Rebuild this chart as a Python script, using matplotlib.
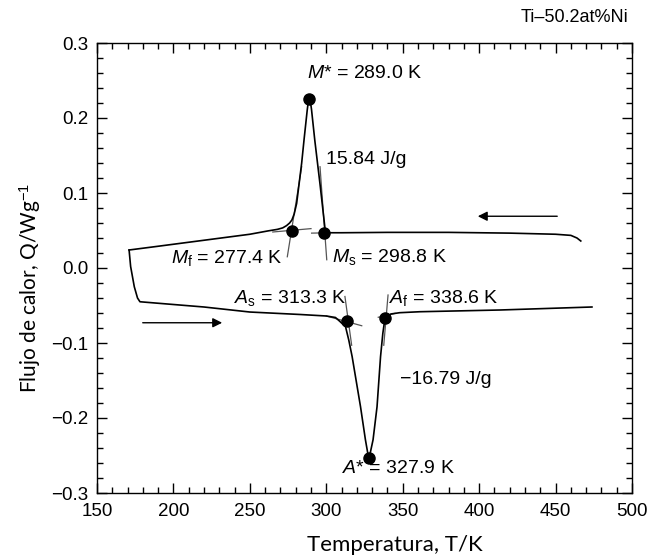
import numpy as np
import matplotlib
matplotlib.use("Agg")
import matplotlib.pyplot as plt
from matplotlib.ticker import MultipleLocator, FuncFormatter

plt.rcParams['font.family'] = ['Liberation Sans', 'DejaVu Sans']
plt.rcParams['mathtext.fontset'] = 'custom'
plt.rcParams['mathtext.rm'] = 'Liberation Sans'
plt.rcParams['mathtext.it'] = 'Liberation Sans:italic'

# cooling run (high T -> low T), exothermic M peak
cool_T = [466.5, 464.0, 460.0, 450.0, 420.0, 380.0, 340.0, 310.0, 300.0,
          299.3, 296.0, 292.5, 290.3, 289.5, 289.0, 288.3, 287.5, 285.5,
          283.9, 282.2, 280.6, 279.0, 277.5, 276.0, 274.0, 271.5, 268.0,
          262.0, 250.0, 220.0, 190.0, 171.0]
cool_Q = [0.036, 0.040, 0.0435, 0.045, 0.0465, 0.0475, 0.0475, 0.047, 0.047,
          0.050, 0.110, 0.170, 0.212, 0.223, 0.226, 0.223, 0.210, 0.172,
          0.140, 0.112, 0.086, 0.072, 0.064, 0.060, 0.0565, 0.0535, 0.0515,
          0.0495, 0.045, 0.037, 0.029, 0.024]

# heating run (low T -> high T), endothermic A dip
heat_T = [171.0, 172.0, 174.4, 176.5, 178.1, 190.0, 220.0, 250.0, 283.0,
          300.0, 306.0, 308.5, 312.6, 314.7, 316.9, 322.4, 325.6, 327.4,
          327.9, 328.4, 330.6, 333.2, 335.5, 337.0, 338.4, 342.3, 348.0,
          361.3, 413.6, 473.8]
heat_Q = [0.024, 0.002, -0.025, -0.040, -0.045, -0.047, -0.052, -0.0587, -0.062,
          -0.064, -0.066, -0.0705, -0.0783, -0.096, -0.118, -0.185, -0.229, -0.250,
          -0.253, -0.250, -0.229, -0.185, -0.118, -0.087, -0.067, -0.0613, -0.0596,
          -0.0583, -0.056, -0.052]

# characteristic temperatures (K) and their heat flow values
pt_names = ['Mstar', 'Mf', 'Ms', 'As', 'Af', 'Astar']
pt_T = [289.0, 277.4, 298.8, 313.3, 338.6, 327.9]
pt_Q = [0.226, 0.050, 0.047, -0.071, -0.066, -0.253]

# tangent construction lines (T0, Q0, T1, Q1)
tangents = [
    (274.5, 0.015, 283.9, 0.135),     # Mf, steep
    (265.0, 0.048, 290.0, 0.0525),    # Mf, baseline
    (295.9, 0.135, 300.3, 0.011),     # Ms, steep
    (290.4, 0.0465, 302.0, 0.047),    # Ms, baseline
    (312.2, -0.038, 316.6, -0.103),   # As, steep
    (300.0, -0.064, 323.2, -0.077),   # As, baseline
    (340.4, -0.036, 337.6, -0.103),   # Af, steep
    (334.0, -0.0657, 345.0, -0.0605), # Af, baseline
]

fig = plt.figure(figsize=(6.51, 5.59), dpi=100)
ax = fig.add_axes([97 / 651, 1 - 493 / 559, 535 / 651, 450 / 559])

for t0, q0, t1, q1 in tangents:
    ax.plot([t0, t1], [q0, q1], color='#555555', lw=0.9, zorder=2)

ax.plot(cool_T, cool_Q, color='black', lw=1.2, zorder=3)
ax.plot(heat_T, heat_Q, color='black', lw=1.2, zorder=3)
ax.plot(pt_T, pt_Q, 'o', color='black', ms=8, zorder=4)

fs = 14
ax.text(325.0, 0.259, r'$M$* = 289.0 K', ha='center', va='center', fontsize=fs)
ax.text(299.8, 0.144, '15.84 J/g', ha='left', va='center', fontsize=fs)
ax.text(271.5, 0.0133, r'$M_\mathrm{f}$ = 277.4 K', ha='right', va='center', fontsize=fs)
ax.text(303.7, 0.0147, r'$M_\mathrm{s}$ = 298.8 K', ha='left', va='center', fontsize=fs)
ax.text(313.5, -0.040, r'$A_\mathrm{s}$ = 313.3 K', ha='right', va='center', fontsize=fs)
ax.text(341.0, -0.040, r'$A_\mathrm{f}$ = 338.6 K', ha='left', va='center', fontsize=fs)
ax.text(348.2, -0.148, '\u221216.79 J/g', ha='left', va='center', fontsize=fs)
ax.text(347.0, -0.267, r'$A$* = 327.9 K', ha='center', va='center', fontsize=fs)

# run direction arrows
ax.annotate('', xy=(397.3, 0.069), xytext=(452.9, 0.069),
            arrowprops=dict(arrowstyle='-|>', color='black', lw=1.0, mutation_scale=14))
ax.annotate('', xy=(233.7, -0.073), xytext=(178.1, -0.073),
            arrowprops=dict(arrowstyle='-|>', color='black', lw=1.0, mutation_scale=14))

ax.set_xlim(150, 500)
ax.set_ylim(-0.3, 0.3)
ax.xaxis.set_major_locator(MultipleLocator(50))
ax.xaxis.set_minor_locator(MultipleLocator(10))
ax.yaxis.set_major_locator(MultipleLocator(0.1))
ax.yaxis.set_minor_locator(MultipleLocator(0.02))
ax.yaxis.set_major_formatter(FuncFormatter(lambda v, p: f'{v:.1f}'.replace('-', '\u2212')))
ax.tick_params(which='both', direction='in', top=True, right=True, labelsize=13.5)
ax.tick_params(axis='x', which='major', pad=7)
ax.tick_params(axis='y', which='major', pad=6)
ax.tick_params(which='major', length=7, width=1)
ax.tick_params(which='minor', length=4, width=1)
for s in ax.spines.values():
    s.set_linewidth(1.0)

fig.text(628 / 651, 1 - 18 / 559, 'Ti\u201350.2at%Ni', ha='right', va='center', fontsize=13)
fig.text(395 / 651, 1 - 545 / 559, 'Temperatura, T/K', ha='center', va='center',
         fontsize=16, family=['Lato', 'DejaVu Sans'])
fig.text(30 / 651, 1 - 288 / 559, r'Flujo de calor, Q/Wg$^{-1}$', ha='center', va='center',
         rotation=90, fontsize=15, family=['Lato', 'DejaVu Sans'])

fig.savefig('out.png', dpi=100)
